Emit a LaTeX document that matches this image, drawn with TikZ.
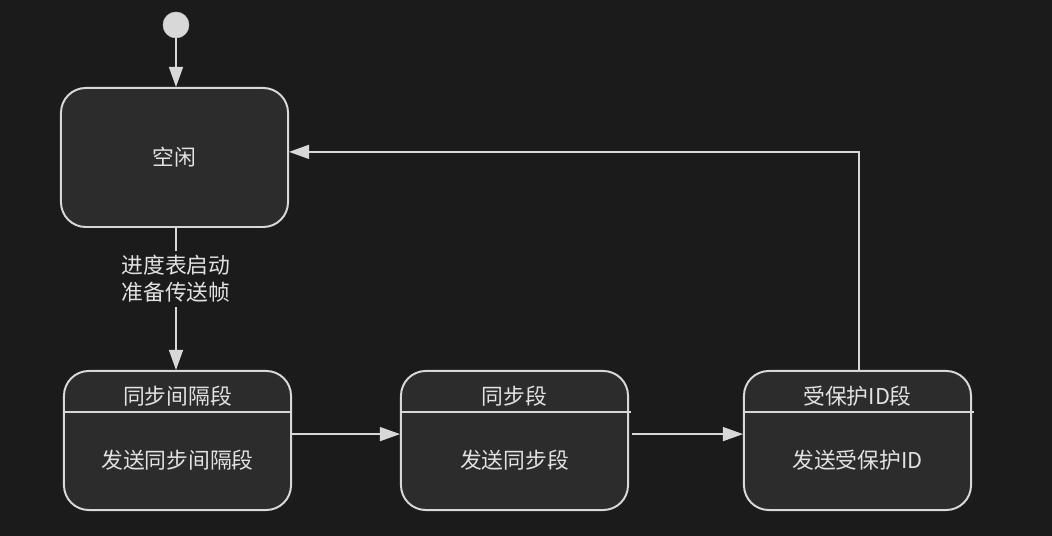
\documentclass[tikz,border=0pt]{standalone}
\usepackage{fontspec}
\setmainfont{Noto Sans CJK SC}
\usepackage{xcolor}
\usepackage{tikz}
\usetikzlibrary{positioning, calc, arrows.meta}

\definecolor{bgc}{HTML}{1B1B1B}
\definecolor{boxc}{HTML}{2C2C2C}
\definecolor{linec}{HTML}{D8D8D8}
\definecolor{textc}{HTML}{E2E2E2}

\tikzset{
  state/.style={draw=linec, fill=boxc, line width=1.4pt, rounded corners=0.62cm,
    minimum width=5.675cm, minimum height=3.475cm, inner sep=0pt},
  label/.style={text=textc, font=\fontsize{15.5}{19.2}\selectfont, inner sep=1pt},
  trans/.style={draw=linec, line width=1pt, -{Triangle[length=0.5cm,width=0.35cm]}},
}

\begin{document}
\begin{tikzpicture}[x=0.025cm, y=-0.025cm]

  % background
  \fill[bgc] (0,0) rectangle (1052,536);
  \useasboundingbox (0,0) rectangle (1052,536);

  % States
  \node[circle, draw=linec!80!gray, fill=linec, minimum size=0.65cm, inner sep=0pt] (start) at (176,25) {};
  \node[state] (idle) at (174.5,157.5) {};
  \node[label] at (idle) {空闲};

  \node[state] (gap) at (177.5,440.5) {};
  \node[state] (sync) at (514.5,440.5) {};
  \node[state] (pid) at (857.5,440.5) {};

  % Titles and bodies
  \node[label] (gapT) at (177.5,396) {同步间隔段};
  \node[label] (gapB) at (177.5,460) {发送同步间隔段};
  \node[label] (syncT) at (514.5,396) {同步段};
  \node[label] (syncB) at (514.5,460) {发送同步段};
  \node[label] (pidT) at (857.5,396) {受保护ID段};
  \node[label] (pidB) at (857.5,460) {发送受保护ID};

  % dividers
  \draw[linec, line width=1pt] (64,412) -- (291,412);
  \draw[linec, line width=1pt] (401,412) -- (631,412);
  \draw[linec, line width=1pt] (744,412) -- (974,412);

  % Transitions
  \draw[trans] (start) -- (start |- idle.north);
  \draw[trans] (idle.south -| start) -- (start |- gap.north)
    node[pos=0.36, fill=bgc, align=center, label, inner sep=3pt] {进度表启动\\准备传送帧};
  \draw[trans] ([yshift=0.16cm]gap.east) -- ([yshift=0.16cm]sync.west);
  \draw[trans] ([xshift=0.08cm, yshift=0.16cm]sync.east) -- ([yshift=0.16cm]pid.west);
  \draw[trans] ([xshift=0.04cm]pid.north) |- ([yshift=0.14cm]idle.east);

\end{tikzpicture}
\end{document}
